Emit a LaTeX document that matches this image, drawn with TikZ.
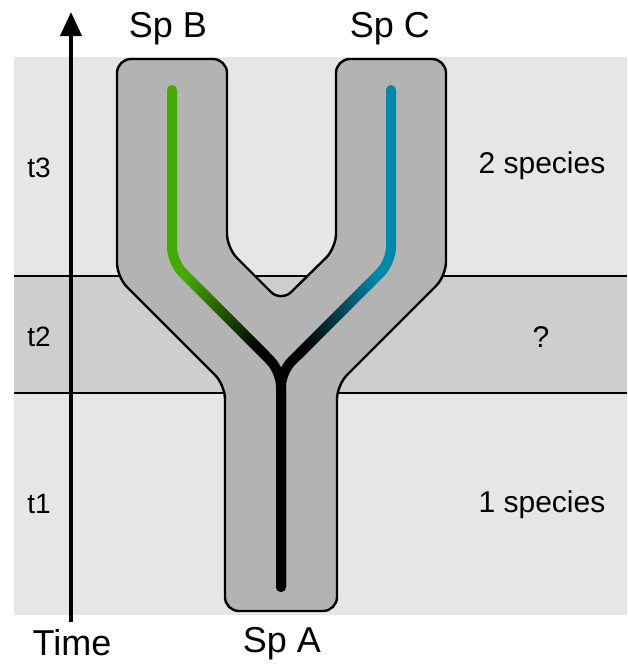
\documentclass[tikz,border=0pt]{standalone}
\usepackage{fontspec}
\setmainfont{Liberation Sans}
\usetikzlibrary{arrows.meta,calc}
\definecolor{bglight}{HTML}{E6E6E6}
\definecolor{bandgray}{HTML}{CECECE}
\definecolor{treegray}{HTML}{B3B3B3}
\definecolor{lineagegreen}{HTML}{44AA00}
\definecolor{lineageblue}{HTML}{0088AA}
\begin{document}
\begin{tikzpicture}[x=1pt,y=-1pt,
  bandline/.style={line width=2pt},
  treeshape/.style={line width=2.4pt,fill=treegray,rounded corners=14pt},
  lineage/.style={line width=10pt,line cap=round,rounded corners=15pt},
  biglabel/.style={font=\fontsize{36}{40}\selectfont,anchor=base,inner sep=0pt},
  countlabel/.style={font=\fontsize{30}{34}\selectfont,anchor=base,inner sep=0pt},
  periodlabel/.style={font=\fontsize{28}{32}\selectfont,anchor=base,inner sep=0pt}]
\useasboundingbox (0,0) rectangle (627,664);

% background and the t2 band
\fill[bglight] (14,57) rectangle (627,615);
\fill[bandgray] (14,276) rectangle (627,393);
\coordinate (bandTL) at (14,276);
\coordinate (bandTR) at (627,276);
\coordinate (bandBL) at (14,393);
\coordinate (bandBR) at (627,393);
\draw[bandline] (bandTL) -- (bandTR);
\draw[bandline] (bandBL) -- (bandBR);

% the Y-shaped species tree
\draw[treeshape] (172,59) -- (227,59) -- (227,248) -- (281,302) -- (336,248)
  -- (336,59) -- (446,59) -- (446,276) -- (337,385) -- (337,611)
  -- (225,611) -- (225,385) -- (117,277) -- (117,59) -- cycle;

% lineage paths
\coordinate (B0) at (172,90);
\coordinate (B1) at (172,262);
\coordinate (B2) at (188,278);
\coordinate (B3) at (263,353);
\coordinate (C0) at (391,90);
\coordinate (C1) at (391,262);
\coordinate (C2) at (375,278);
\coordinate (C3) at (300,353);
\coordinate (J) at (281,371.5);
\coordinate (A0) at (281,587);

\draw[lineage,draw=black] (B3) -- (J) -- (A0);
\draw[lineage,draw=black] (C3) -- (J) -- (A0);
\draw[lineage,draw=lineagegreen] (B0) -- (B1) -- (B2);
\draw[lineage,draw=lineageblue] (C0) -- (C1) -- (C2);
\foreach \i in {0,...,23}{
  \pgfmathsetmacro\q{100-100*\i/23}
  \draw[lineage,draw=lineagegreen!\q!black]
    ($(B2)!{\i/24}!(B3)$) -- ($(B2)!{(\i+1)/24}!(B3)$);
  \draw[lineage,draw=lineageblue!\q!black]
    ($(C2)!{\i/24}!(C3)$) -- ($(C2)!{(\i+1)/24}!(C3)$);
}

% time axis
\coordinate (timebase) at (71,622);
\coordinate (timetop) at (71,12);
\draw[line width=4pt,-{Triangle[length=24pt,width=21pt]}] (timebase) -- (timetop);

% labels
\node[biglabel] (spB) at (168,37) {Sp B};
\node[biglabel] (spC) at (390,37) {Sp C};
\node[biglabel] (spA) at (282,652) {Sp A};
\node[biglabel] (time) at (72,655) {Time};
\node[periodlabel] (t3) at (39,177) {t3};
\node[periodlabel] (t2) at (39,346) {t2};
\node[periodlabel] (t1) at (39,513) {t1};
\node[countlabel] (two) at (542,173) {2 species};
\node[countlabel] (unknown) at (541,347) {?};
\node[countlabel] (one) at (542,512) {1 species};
\end{tikzpicture}
\end{document}
